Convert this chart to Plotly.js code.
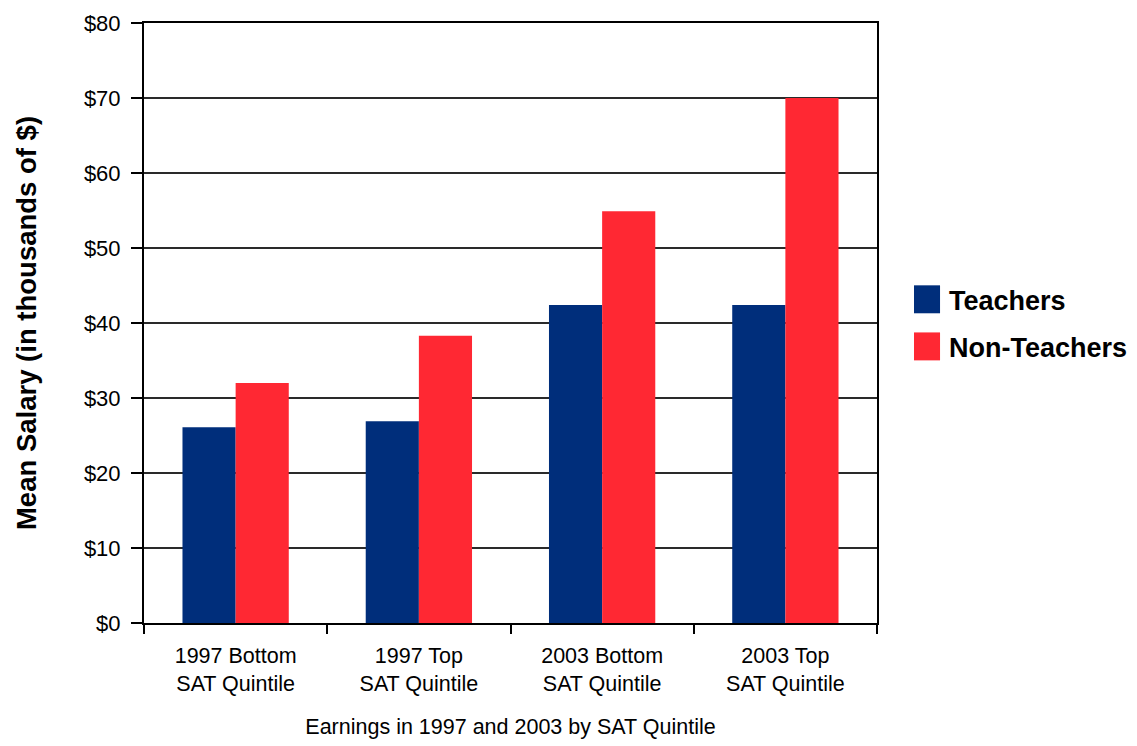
<!DOCTYPE html>
<html>
<head>
<meta charset="utf-8">
<script src="https://cdn.plot.ly/plotly-3.0.1.min.js"></script>
<style>
html,body{margin:0;padding:0;background:#fff;}
#chart{width:1137px;height:746px;}
</style>
</head>
<body>
<div id="chart"></div>
<script>
const categories = ["1997 Bottom<br>SAT Quintile", "1997 Top<br>SAT Quintile", "2003 Bottom<br>SAT Quintile", "2003 Top<br>SAT Quintile"];
const teachers = [26.1, 26.9, 42.4, 42.4];
const nonTeachers = [32.0, 38.3, 54.9, 70.0];
const seriesNames = ["Teachers", "Non-Teachers"];
const seriesColors = ["#002E7B", "#FF2833"];
const yTickVals = [0, 10, 20, 30, 40, 50, 60, 70, 80];
const yTickText = ["$0", "$10", "$20", "$30", "$40", "$50", "$60", "$70", "$80"];

const FONT = "'Liberation Sans', Arial, sans-serif";

const traces = [
  {type: "bar", x: categories, y: teachers, name: seriesNames[0], marker: {color: seriesColors[0]}, showlegend: false, hoverinfo: "skip"},
  {type: "bar", x: categories, y: nonTeachers, name: seriesNames[1], marker: {color: seriesColors[1]}, showlegend: false, hoverinfo: "skip"}
];

const shapes = [];
const annotations = [];
const legendY = [0.5395, 0.461];
seriesNames.forEach((n, i) => {
  shapes.push({type: "rect", xref: "paper", yref: "paper", x0: 1.0505, x1: 1.086, y0: legendY[i] - 0.0233, y1: legendY[i] + 0.0233, fillcolor: seriesColors[i], line: {width: 0}});
  annotations.push({xref: "paper", yref: "paper", x: 1.095, y: legendY[i] - 0.003, xanchor: "left", yanchor: "middle", text: "<b>" + n + "</b>", showarrow: false, font: {family: FONT, size: 27, color: "#000"}});
});

const layout = {
  width: 1137, height: 746,
  margin: {l: 144, r: 260, t: 23, b: 123},
  paper_bgcolor: "#fff", plot_bgcolor: "#fff",
  barmode: "group", bargap: 0.42, bargroupgap: 0,
  showlegend: false,
  xaxis: {
    type: "category",
    tickson: "boundaries",
    ticks: "outside", ticklen: 9, tickwidth: 2, tickcolor: "#000",
    ticklabelstandoff: 12,
    showline: true, linecolor: "#000", linewidth: 2, mirror: true,
    showgrid: false,
    tickfont: {family: FONT, size: 21.5, color: "#000"},
    title: {text: "Earnings in 1997 and 2003 by SAT Quintile", font: {family: FONT, size: 21.5, color: "#000"}, standoff: 24}
  },
  yaxis: {
    range: [0, 80],
    tickvals: yTickVals, ticktext: yTickText,
    ticks: "outside", ticklen: 11, tickwidth: 2, tickcolor: "#000",
    ticklabelstandoff: 6,
    showline: true, linecolor: "#000", linewidth: 2, mirror: true,
    showgrid: true, gridcolor: "#2a2a2a", gridwidth: 2,
    zeroline: false,
    tickfont: {family: FONT, size: 22, color: "#000"},
    title: {text: "<b>Mean Salary (in thousands of $)</b>", font: {family: FONT, size: 27.5, color: "#000"}, standoff: 39}
  },
  shapes: shapes,
  annotations: annotations
};

Plotly.newPlot("chart", traces, layout, {displayModeBar: false, staticPlot: true});
</script>
</body>
</html>
